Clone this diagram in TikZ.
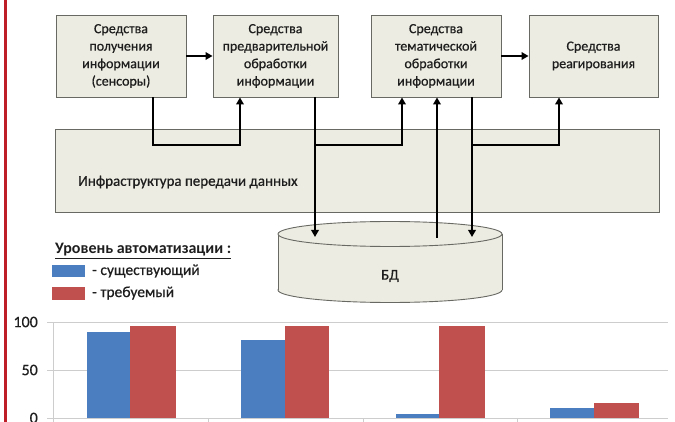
\documentclass[tikz,border=0pt]{standalone}
\usepackage{fontspec}
\setmainfont{Carlito}
\newfontfamily\heavyfont[FakeBold=0.6]{Carlito}
\usetikzlibrary{arrows.meta}
\definecolor{boxfill}{RGB}{237,236,226}
\definecolor{boxline}{RGB}{105,105,100}
\definecolor{barblue}{RGB}{74,126,193}
\definecolor{barred}{RGB}{192,80,77}
\definecolor{gridc}{RGB}{205,205,205}
\definecolor{leftred}{RGB}{190,30,40}
\definecolor{txt}{RGB}{30,30,30}
\begin{document}
\begin{tikzpicture}[x=1pt,y=-1pt,
  box/.style={draw=boxline, fill=boxfill, line width=0.9pt, align=center,
    font=\heavyfont\fontsize{14}{17.5}\selectfont, text=txt, inner sep=0pt, minimum height=82pt},
  conn/.style={line width=2pt, draw=black},
  arr/.style={conn, -{Triangle[length=7pt,width=7.5pt]}},
  lbl/.style={font=\heavyfont\fontsize{15}{17}\selectfont, text=txt, inner sep=0pt},
  ylbl/.style={font=\heavyfont\fontsize{16}{18}\selectfont, text=txt, inner sep=0pt, anchor=east},
  grid/.style={draw=gridc, line width=0.8pt}]
\useasboundingbox (0,0) rectangle (675,422);
\fill[white] (0,0) rectangle (675,422);
% left red rule
\fill[leftred] (4,0) rectangle (7,422);

% infrastructure band
\node[box, minimum width=604pt, minimum height=83pt] (infra) at (357,170.5) {};
\node[lbl, anchor=west] (infratext) at (78,182) {Инфраструктура передачи данных};

% top boxes
\node[box, minimum width=130pt] (box1) at (121,56) {Средства\\получения\\информации\\(сенсоры)};
\node[box, minimum width=125pt] (box2) at (275.5,56) {Средства\\предварительной\\обработки\\информации};
\node[box, minimum width=130pt] (box3) at (436,56) {Средства\\тематической\\обработки\\информации};
\node[box, minimum width=129pt] (box4) at (593.5,56) {Средства\\реагирования};

% database cylinder
\filldraw[fill=boxfill, draw=boxline, line width=0.9pt] (390,290) ellipse [x radius=112, y radius=12.5];
\fill[boxfill] (278,234) rectangle (502,290);
\draw[boxline, line width=0.9pt] (278,234) -- (278,290) (502,234) -- (502,290);
\filldraw[fill=boxfill, draw=boxline, line width=0.9pt] (390,234) ellipse [x radius=112, y radius=12.5];
\node[lbl] (db) at (390,276) {БД};

% junction coordinates
\coordinate (j1a) at (153,145);
\coordinate (j1b) at (240,145);
\coordinate (j2a) at (315,145);
\coordinate (j2b) at (402,145);
\coordinate (j3a) at (472,145);
\coordinate (j3b) at (559,145);
\coordinate (dbin1) at (315,237);
\coordinate (dbout) at (437,238);
\coordinate (dbin2) at (472,237);

% connectors
\draw[arr] (box1.east) -- (box2.west);
\draw[arr] (box3.east) -- (box4.west);
\draw[arr] (j1a |- box1.south) -- (j1a) -- (j1b) -- (j1b |- box2.south);
\draw[arr] (dbin1 |- box2.south) -- (dbin1);
\draw[arr] (j2a) -- (j2b) -- (j2b |- box3.south);
\draw[arr] (dbout) -- (dbout |- box3.south);
\draw[arr] (dbin2 |- box3.south) -- (dbin2);
\draw[arr] (j3a) -- (j3b) -- (j3b |- box4.south);

% legend
\node[font=\fontsize{16}{18}\selectfont\bfseries, text=txt, inner sep=0pt, anchor=base west] (legtitle) at (55,254) {\underline{Уровень автоматизации :}};
\fill[barblue] (52,265) rectangle (85,277);
\node[lbl, font=\heavyfont\fontsize{15.5}{17}\selectfont, anchor=west] (legblue) at (92,271) {- существующий};
\fill[barred] (52,287) rectangle (85,300);
\node[lbl, font=\heavyfont\fontsize{15.5}{17}\selectfont, anchor=west] (legred) at (92,293) {- требуемый};

% chart grid and axis
\draw[grid] (47,322) -- (668,322);
\draw[grid] (47,370) -- (668,370);
\draw[grid] (47,418) -- (668,418);
\draw[grid] (53,322) -- (53,422);
\foreach \tx in {208,363,517} \draw[grid] (\tx,418) -- (\tx,422);
\node[ylbl] (y100) at (38,322) {100};
\node[ylbl] (y50) at (38,370) {50};
\node[ylbl] (y0) at (38,418) {0};

% bars
\fill[barblue] (87,332) rectangle (130,418);
\fill[barred] (130,326) rectangle (176,418);
\fill[barblue] (241,340) rectangle (285,418);
\fill[barred] (285,326) rectangle (329,418);
\fill[barblue] (396,414) rectangle (439,418);
\fill[barred] (439,326) rectangle (485,418);
\fill[barblue] (550,408) rectangle (594,418);
\fill[barred] (594,403) rectangle (639,418);
\end{tikzpicture}
\end{document}
